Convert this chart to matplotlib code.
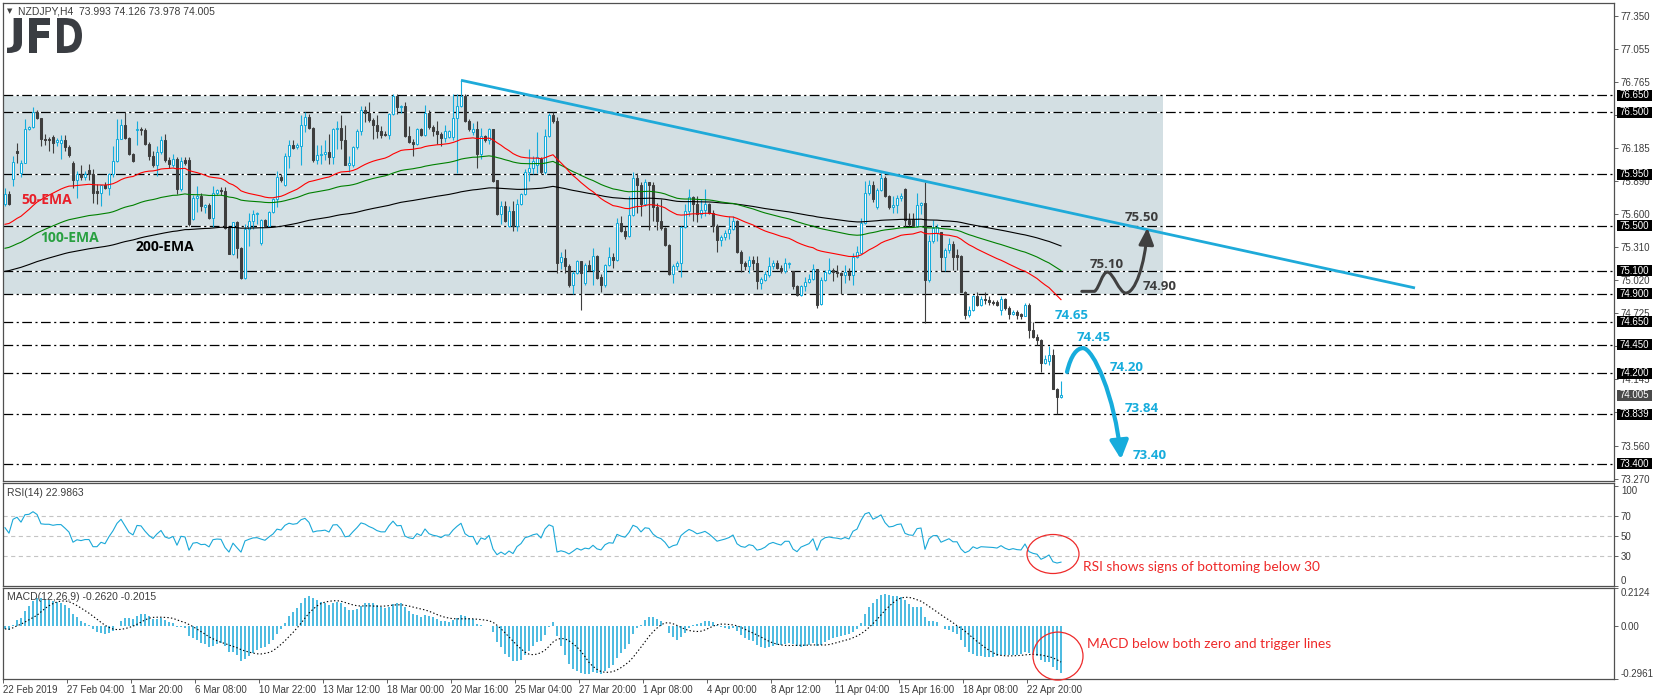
"""NZDJPY H4 chart with EMAs, RSI and MACD panels (JFD style)."""
import matplotlib

matplotlib.use("Agg")
import matplotlib.pyplot as plt
import matplotlib.transforms as mtransforms
import numpy as np
import pandas as pd
from matplotlib.font_manager import FontProperties
from matplotlib.patches import Ellipse, FancyArrowPatch, PathPatch, Rectangle
from matplotlib.path import Path
from matplotlib.textpath import TextPath

plt.rcParams["lines.scale_dashes"] = False
plt.rcParams["font.family"] = ["Liberation Sans", "DejaVu Sans"]

# --- price data (H4 bars, 22 Feb 2019 -> 24 Apr 2019) ---
opens = [
    75.69, 75.78, 75.91, 76.16, 75.96, 76.05, 76.35, 76.37, 76.50, 76.45,
    76.26, 76.26, 76.28, 76.24, 76.23, 76.25, 76.19, 76.05, 75.90, 75.95,
    75.93, 75.99, 75.95, 75.80, 75.79, 75.86, 75.83, 75.95, 76.07, 76.26,
    76.39, 76.27, 76.13, 76.34, 76.35, 76.34, 76.22, 76.11, 76.03, 76.15,
    76.25, 76.08, 76.03, 76.09, 75.82, 76.08, 76.08, 75.56, 75.74, 75.76,
    75.66, 75.68, 75.57, 75.79, 75.81, 75.80, 75.48, 75.25, 75.53, 75.30,
    75.04, 75.47, 75.54, 75.60, 75.35, 75.55, 75.50, 75.62, 75.73, 75.93,
    75.86, 76.11, 76.21, 76.19, 76.20, 76.39, 76.46, 76.36, 76.08, 76.12,
    76.13, 76.15, 76.10, 76.35, 76.36, 76.25, 76.03, 76.03, 76.19, 76.33,
    76.52, 76.49, 76.43, 76.39, 76.33, 76.31, 76.30, 76.48, 76.64, 76.54,
    76.55, 76.29, 76.24, 76.22, 76.35, 76.30, 76.49, 76.37, 76.33, 76.31,
    76.27, 76.28, 76.28, 76.45, 76.55, 76.64, 76.42, 76.32, 76.35, 76.13,
    76.29, 76.25, 76.35, 75.90, 75.60, 75.67, 75.50, 75.63, 75.50, 75.69,
    75.78, 75.97, 76.01, 76.03, 76.09, 75.97, 76.29, 76.47, 76.42, 75.18,
    75.21, 75.14, 74.98, 75.08, 75.19, 74.99, 75.15, 75.11, 75.23, 75.05,
    74.98, 75.15, 75.22, 75.20, 75.52, 75.45, 75.41, 75.59, 75.92, 75.86,
    75.69, 75.88, 75.86, 75.66, 75.54, 75.48, 75.33, 75.07, 75.14, 75.17,
    75.49, 75.63, 75.75, 75.69, 75.60, 75.64, 75.69, 75.61, 75.50, 75.37,
    75.40, 75.43, 75.47, 75.54, 75.27, 75.17, 75.14, 75.20, 75.17, 74.99,
    75.02, 75.06, 75.14, 75.17, 75.13, 75.10, 75.16, 75.10, 74.97, 74.89,
    74.97, 75.00, 75.03, 75.12, 74.81, 75.02, 75.08, 75.11, 75.09, 75.08,
    75.06, 75.09, 75.06, 75.22, 75.26, 75.52, 75.79, 75.86, 75.66, 75.81,
    75.92, 75.76, 75.66, 75.68, 75.74, 75.82, 75.55, 75.56, 75.50, 75.68,
    75.70, 75.02, 75.36, 75.43, 75.44, 75.22, 75.28, 75.34, 75.24, 75.23,
    74.91, 74.71, 74.76, 74.88, 74.80, 74.85, 74.84, 74.83, 74.83, 74.76,
    74.85, 74.77, 74.72, 74.74, 74.72, 74.70, 74.80, 74.58, 74.52, 74.49,
    74.29, 74.31, 74.36, 74.06, 73.993,
]
highs = [
    75.83, 75.80, 76.11, 76.23, 76.08, 76.44, 76.38, 76.54, 76.52, 76.45,
    76.31, 76.28, 76.30, 76.27, 76.30, 76.30, 76.21, 76.07, 75.98, 76.03,
    75.98, 76.04, 76.00, 75.87, 75.86, 75.88, 75.96, 76.20, 76.44, 76.44,
    76.50, 76.28, 76.14, 76.42, 76.37, 76.36, 76.24, 76.16, 76.20, 76.29,
    76.31, 76.10, 76.13, 76.10, 76.10, 76.10, 76.10, 75.77, 75.85, 75.79,
    75.69, 75.70, 75.85, 75.82, 75.84, 75.84, 75.49, 75.53, 75.54, 75.31,
    75.51, 75.61, 75.64, 75.62, 75.56, 75.56, 75.63, 75.74, 75.98, 75.95,
    76.14, 76.25, 76.25, 76.23, 76.47, 76.50, 76.48, 76.37, 76.21, 76.21,
    76.25, 76.31, 76.36, 76.42, 76.47, 76.39, 76.11, 76.20, 76.35, 76.55,
    76.55, 76.59, 76.45, 76.47, 76.38, 76.33, 76.49, 76.66, 76.66, 76.56,
    76.59, 76.38, 76.26, 76.36, 76.36, 76.56, 76.52, 76.39, 76.42, 76.32,
    76.39, 76.34, 76.66, 76.66, 76.78, 76.66, 76.44, 76.40, 76.42, 76.36,
    76.30, 76.36, 76.35, 75.90, 75.72, 75.72, 75.67, 75.72, 75.73, 75.79,
    76.00, 76.17, 76.11, 76.32, 76.10, 76.35, 76.49, 76.50, 76.46, 75.27,
    75.29, 75.16, 75.10, 75.20, 75.19, 75.17, 75.20, 75.30, 75.24, 75.07,
    75.16, 75.31, 75.26, 75.57, 75.58, 75.50, 75.76, 75.97, 75.96, 75.88,
    75.91, 75.88, 75.88, 75.70, 75.73, 75.49, 75.34, 75.16, 75.19, 75.50,
    75.69, 75.82, 75.76, 75.76, 75.73, 75.82, 75.70, 75.64, 75.51, 75.42,
    75.46, 75.58, 75.58, 75.55, 75.28, 75.19, 75.23, 75.23, 75.23, 75.05,
    75.10, 75.22, 75.20, 75.20, 75.15, 75.21, 75.18, 75.10, 74.98, 74.98,
    75.05, 75.07, 75.16, 75.12, 75.05, 75.11, 75.21, 75.13, 75.15, 75.09,
    75.15, 75.13, 75.26, 75.32, 75.57, 75.89, 75.90, 75.89, 75.83, 75.96,
    75.94, 75.77, 75.76, 75.77, 75.79, 75.83, 75.61, 75.61, 75.79, 75.71,
    75.88, 75.42, 75.55, 75.51, 75.44, 75.30, 75.39, 75.36, 75.29, 75.24,
    74.92, 74.79, 74.89, 74.91, 74.88, 74.91, 74.88, 74.84, 74.84, 74.88,
    74.86, 74.79, 74.76, 74.76, 74.73, 74.82, 74.82, 74.65, 74.54, 74.50,
    74.36, 74.44, 74.41, 74.07, 74.126,
]
lows = [
    75.67, 75.68, 75.85, 76.05, 75.93, 76.05, 76.34, 76.36, 76.44, 76.20,
    76.21, 76.16, 76.14, 76.20, 76.09, 76.16, 76.10, 75.83, 75.74, 75.90,
    75.90, 75.90, 75.70, 75.69, 75.67, 75.82, 75.77, 75.93, 76.06, 76.26,
    76.26, 76.12, 76.06, 76.21, 76.30, 76.21, 76.08, 76.02, 75.94, 76.13,
    76.06, 76.01, 76.02, 75.78, 75.80, 76.03, 75.50, 75.55, 75.62, 75.63,
    75.61, 75.56, 75.49, 75.77, 75.77, 75.47, 75.25, 75.24, 75.21, 75.03,
    75.03, 75.32, 75.47, 75.51, 75.33, 75.49, 75.49, 75.61, 75.66, 75.88,
    75.85, 76.01, 76.17, 76.17, 76.03, 76.32, 76.35, 76.06, 76.04, 76.04,
    76.08, 76.04, 76.04, 76.17, 76.17, 76.03, 75.97, 76.02, 76.17, 76.30,
    76.41, 76.41, 76.26, 76.27, 76.27, 76.29, 76.26, 76.47, 76.48, 76.49,
    76.28, 76.23, 76.11, 76.21, 76.29, 76.29, 76.35, 76.29, 76.22, 76.20,
    76.24, 76.27, 76.25, 75.96, 76.54, 76.41, 76.33, 76.30, 76.01, 76.09,
    76.24, 76.22, 75.88, 75.59, 75.51, 75.53, 75.49, 75.45, 75.45, 75.68,
    75.77, 75.89, 75.95, 75.96, 75.95, 75.95, 76.28, 76.40, 75.08, 75.12,
    75.08, 74.96, 74.90, 75.07, 74.76, 74.98, 75.10, 74.98, 75.03, 74.91,
    74.96, 75.14, 75.13, 75.19, 75.44, 75.38, 75.40, 75.58, 75.61, 75.58,
    75.67, 75.46, 75.54, 75.46, 75.46, 75.32, 75.06, 74.99, 75.11, 75.05,
    75.48, 75.58, 75.54, 75.53, 75.57, 75.58, 75.60, 75.44, 75.27, 75.32,
    75.37, 75.38, 75.46, 75.26, 75.09, 75.11, 75.08, 75.11, 74.94, 74.94,
    75.01, 75.05, 75.12, 75.12, 75.08, 75.08, 75.13, 74.94, 74.88, 74.88,
    74.92, 74.99, 75.02, 74.77, 74.80, 75.01, 75.07, 75.01, 75.05, 74.90,
    74.99, 75.02, 74.98, 75.21, 75.26, 75.51, 75.77, 75.71, 75.65, 75.80,
    75.75, 75.65, 75.61, 75.61, 75.72, 75.49, 75.50, 75.49, 75.49, 75.60,
    74.64, 75.00, 75.35, 75.36, 75.10, 75.10, 75.26, 75.11, 75.11, 74.91,
    74.68, 74.69, 74.75, 74.79, 74.79, 74.81, 74.80, 74.80, 74.79, 74.71,
    74.76, 74.68, 74.71, 74.68, 74.68, 74.70, 74.51, 74.51, 74.45, 74.21,
    74.28, 74.27, 74.06, 73.839, 73.978,
]
closes = [
    75.78, 75.69, 76.06, 76.14, 76.05, 76.35, 76.37, 76.50, 76.45, 76.26,
    76.25, 76.25, 76.23, 76.25, 76.25, 76.19, 76.12, 75.90, 75.95, 75.93,
    75.95, 75.95, 75.79, 75.79, 75.86, 75.83, 75.95, 76.07, 76.26, 76.39,
    76.27, 76.13, 76.07, 76.35, 76.34, 76.22, 76.11, 76.03, 76.15, 76.25,
    76.08, 76.04, 76.09, 75.82, 76.07, 76.05, 75.51, 75.74, 75.76, 75.67,
    75.68, 75.57, 75.79, 75.81, 75.80, 75.48, 75.25, 75.53, 75.30, 75.04,
    75.47, 75.54, 75.60, 75.61, 75.55, 75.50, 75.62, 75.73, 75.93, 75.90,
    76.11, 76.21, 76.18, 76.21, 76.39, 76.46, 76.36, 76.08, 76.12, 76.13,
    76.15, 76.10, 76.35, 76.36, 76.25, 76.03, 76.05, 76.19, 76.33, 76.52,
    76.49, 76.43, 76.39, 76.33, 76.30, 76.30, 76.48, 76.64, 76.54, 76.55,
    76.29, 76.24, 76.22, 76.35, 76.30, 76.49, 76.37, 76.33, 76.31, 76.27,
    76.33, 76.33, 76.45, 76.55, 76.64, 76.42, 76.35, 76.35, 76.13, 76.29,
    76.25, 76.35, 75.89, 75.60, 75.67, 75.54, 75.63, 75.50, 75.69, 75.78,
    75.97, 76.01, 76.07, 76.10, 75.97, 76.29, 76.47, 76.42, 75.17, 75.22,
    75.14, 74.98, 75.08, 75.19, 75.08, 75.15, 75.11, 75.23, 75.04, 74.98,
    75.15, 75.22, 75.20, 75.52, 75.45, 75.41, 75.59, 75.92, 75.86, 75.69,
    75.88, 75.86, 75.66, 75.54, 75.48, 75.33, 75.07, 75.14, 75.17, 75.49,
    75.63, 75.75, 75.69, 75.60, 75.64, 75.69, 75.61, 75.50, 75.37, 75.40,
    75.43, 75.47, 75.54, 75.27, 75.17, 75.14, 75.20, 75.17, 75.01, 75.03,
    75.07, 75.14, 75.17, 75.13, 75.10, 75.17, 75.17, 74.97, 74.89, 74.97,
    75.00, 75.03, 75.12, 74.80, 75.02, 75.09, 75.11, 75.09, 75.08, 75.06,
    75.09, 75.06, 75.22, 75.27, 75.52, 75.79, 75.86, 75.73, 75.81, 75.92,
    75.76, 75.66, 75.68, 75.74, 75.76, 75.55, 75.51, 75.50, 75.68, 75.70,
    75.02, 75.36, 75.48, 75.49, 75.22, 75.28, 75.34, 75.22, 75.22, 74.91,
    74.71, 74.76, 74.88, 74.80, 74.85, 74.84, 74.83, 74.82, 74.80, 74.85,
    74.77, 74.72, 74.74, 74.71, 74.70, 74.80, 74.58, 74.52, 74.49, 74.29,
    74.32, 74.36, 74.06, 73.99, 74.005,
]

# indicator values at the left edge of the chart (history before the first bar)
ema_seeds = {50: 75.50, 100: 75.29, 200: 75.09}
macd_fast_seed, macd_slow_seed = 75.75, 75.77
rsi_gain_seed, rsi_loss_seed = 0.035, 0.030

tick_labels = [
    "22 Feb 2019", "27 Feb 04:00", "1 Mar 20:00", "6 Mar 08:00", "10 Mar 22:00",
    "13 Mar 12:00", "18 Mar 00:00", "20 Mar 16:00", "25 Mar 04:00", "27 Mar 20:00",
    "1 Apr 08:00", "4 Apr 00:00", "8 Apr 12:00", "11 Apr 04:00", "15 Apr 16:00",
    "18 Apr 08:00", "22 Apr 20:00",
]
price_ticks = [77.350, 77.055, 76.765, 76.475, 76.185, 75.890, 75.600, 75.310,
               75.020, 74.725, 74.435, 74.145, 73.855, 73.560, 73.270]
hidden_ticks = [76.475, 74.435, 73.855]  # labels covered by the level boxes
levels = [76.65, 76.50, 75.95, 75.50, 75.10, 74.90, 74.65, 74.45, 74.20, 73.839, 73.40]
last_price = 74.005
range_top, range_bottom = 76.65, 74.90
trend_x, trend_y = [114, 352.5], [76.78, 74.95]

CYAN = "#16acdc"
DARK = "#3e3e3e"
RED = "#ee2a2a"
W, H = 1655, 700


def ema(values, span, seed):
    alpha = 2.0 / (span + 1)
    out, prev = [], seed
    for v in values:
        prev = prev + alpha * (v - prev)
        out.append(prev)
    return np.array(out)


def box(top, bottom, left=3, right=1614):
    return [left / W, 1 - bottom / H, (right - left) / W, (bottom - top) / H]


o, h, l, c = (np.array(a, dtype=float) for a in (opens, highs, lows, closes))
x = np.arange(len(c))

# indicators
emas = {n: ema(c, n, s) for n, s in ema_seeds.items()}
macd = ema(c, 12, macd_fast_seed) - ema(c, 26, macd_slow_seed)
signal = pd.Series(macd).rolling(9, min_periods=1).mean().values
delta = np.diff(np.concatenate([[o[0]], c]))
g, ls_ = rsi_gain_seed, rsi_loss_seed
rsi = []
for d in delta:
    g = (g * 13 + max(d, 0)) / 14
    ls_ = (ls_ * 13 + max(-d, 0)) / 14
    rsi.append(100 - 100 / (1 + g / ls_))
rsi = np.array(rsi)

fig = plt.figure(figsize=(W / 100, H / 100), dpi=100)
ax = fig.add_axes(box(3, 481))
ax_rsi = fig.add_axes(box(483, 586))
ax_macd = fig.add_axes(box(588, 679))
xlim = (-0.5, -0.5 + 1611 / 4)

for a in (ax, ax_rsi, ax_macd):
    a.set_xlim(*xlim)
    for s in a.spines.values():
        s.set_color("#505050")
        s.set_linewidth(0.9)
    a.yaxis.tick_right()
    a.tick_params(axis="y", direction="out", length=3, pad=2, labelsize=7,
                  labelcolor="#3c3c3c", color="#606060", width=0.7)
    a.tick_params(axis="x", bottom=False, labelbottom=False)

# --- main panel ---
ax.set_ylim(73.2491, 77.4606)
ax.add_patch(Rectangle((xlim[0], range_bottom), 289.5 - xlim[0], range_top - range_bottom,
                       fc="#d3dfe3", ec="none", zorder=0))
for lv in levels:
    ax.axhline(lv, color="black", lw=0.9, ls=(0, (7, 2.5, 1.5, 2.5)), gapcolor="white", zorder=1)

up = c >= o
ax.vlines(x, l, h, colors=np.where(up, CYAN, DARK), lw=0.8, zorder=3)
body_lo = np.minimum(o, c)
body_h = np.maximum(np.abs(c - o), 0.004)
ax.bar(x[up], body_h[up], bottom=body_lo[up], width=0.6, color="white",
       edgecolor=CYAN, lw=0.75, zorder=4)
ax.bar(x[~up], body_h[~up], bottom=body_lo[~up], width=0.6, color=DARK,
       edgecolor=DARK, lw=0.75, zorder=4)

for n, col in ((200, "black"), (100, "#008000"), (50, "#ff0000")):
    ax.plot(x, emas[n], color=col, lw=0.8, zorder=5)

ax.plot(trend_x, trend_y, color="#1eaad9", lw=2.0, solid_capstyle="butt", zorder=6)

bold = dict(family=["Open Sans", "DejaVu Sans"], weight="bold")
ax.text(4, 75.725, "50-EMA", color="#e8202a", fontsize=10, va="center", zorder=7, **bold)
ax.text(8.75, 75.39, "100-EMA", color="#28a040", fontsize=10, va="center", zorder=7, **bold)
ax.text(32.75, 75.31, "200-EMA", color="black", fontsize=10, va="center", zorder=7, **bold)

# scenario arrows
up_path = Path(
    [(269.2, 74.92), (272.4, 74.92),
     (273.6, 74.95), (274.3, 75.09), (275.6, 75.09),
     (277.0, 75.09), (278.6, 74.905), (280.2, 74.905),
     (282.5, 74.905), (285.0, 75.15), (285.6, 75.48)],
    [Path.MOVETO, Path.LINETO] + [Path.CURVE4] * 9,
)
ax.add_patch(FancyArrowPatch(path=up_path, arrowstyle="-|>,head_length=10,head_width=4.5",
                             mutation_scale=1, color="#404040", lw=2.2, zorder=8))
down_path = Path(
    [(265.5, 74.21), (266.5, 74.36), (268.0, 74.42), (269.5, 74.42),
     (272.0, 74.42), (277.5, 74.0), (279.0, 73.44)],
    [Path.MOVETO] + [Path.CURVE4] * 6,
)
ax.add_patch(FancyArrowPatch(path=down_path, arrowstyle="-|>,head_length=11,head_width=5.5",
                             mutation_scale=1, color=CYAN, lw=3.0, zorder=8))

for xx, yy, txt in ((280, 75.575, "75.50"), (271.25, 75.16, "75.10"), (284.5, 74.96, "74.90")):
    ax.text(xx, yy, txt, color="#3c3c3c", fontsize=9.5, va="center", zorder=9, **bold)
for xx, yy, txt in ((262.5, 74.71, "74.65"), (268, 74.51, "74.45"), (276.25, 74.25, "74.20"),
                    (280, 73.89, "73.84"), (282, 73.47, "73.40")):
    ax.text(xx, yy, txt, color=CYAN, fontsize=9.5, va="center", zorder=9, **bold)

ax.set_yticks(price_ticks)
ax.set_yticklabels(["" if t in hidden_ticks else f"{t:.3f}" for t in price_ticks])
trans = mtransforms.blended_transform_factory(ax.transAxes, ax.transData)
half = 5.5 / 113.5
for lv, fc in [(lv, "black") for lv in levels] + [(last_price, "#4a4a4a")]:
    ax.add_patch(Rectangle((1.0019, lv - half), 0.0217, 2 * half, transform=trans,
                           fc=fc, ec="none", clip_on=False, zorder=10))
    ax.text(1.0032, lv, f"{lv:.3f}", transform=trans, color="white", fontsize=7,
            va="center", ha="left", zorder=11, clip_on=False)

# --- RSI panel ---
ax_rsi.set_ylim(0, 103)
for lv in (70, 50, 30):
    ax_rsi.axhline(lv, color="#c4c4c4", lw=0.8, ls=(0, (3, 2.5)), zorder=1)
ax_rsi.plot(x, rsi, color="#1aa8d8", lw=0.8, zorder=3)
ax_rsi.set_yticks([100, 70, 50, 30, 0])
ax_rsi.set_yticklabels(["100", "70", "50", "30", "0"])
rl = ax_rsi.get_yticklabels()
rl[0].set_va("top")
rl[-1].set_va("bottom")
ax_rsi.add_patch(Ellipse((262, 32), 13, 39, fill=False, ec=RED, lw=0.9, clip_on=False, zorder=5))
ax_rsi.text(269.5, 19, "RSI shows signs of bottoming below 30", color=RED, fontsize=9.9,
            family=["Lato", "DejaVu Sans"], va="center")

# --- MACD panel ---
ax_macd.set_ylim(-0.2961, 0.2124)
ax_macd.vlines(x, 0, macd, colors="#1aa8d8", lw=1.1, zorder=2)
ax_macd.plot(x, signal, color="black", lw=0.8, ls=(0, (1, 1.6)), zorder=3)
ax_macd.set_yticks([0.2124, 0.0, -0.2961])
ax_macd.set_yticklabels(["0.2124", "0.00", "-0.2961"])
ml = ax_macd.get_yticklabels()
ml[0].set_va("top")
ml[-1].set_va("bottom")
ax_macd.add_patch(Ellipse((263.25, -0.168), 12.5, 0.268, fill=False, ec=RED, lw=0.9,
                          clip_on=False, zorder=5))
ax_macd.text(270.5, -0.10, "MACD below both zero and trigger lines", color=RED, fontsize=9.9,
             family=["Lato", "DejaVu Sans"], va="center")

ax_macd.tick_params(axis="x", bottom=True, labelbottom=True, direction="out", length=3,
                    pad=1, labelsize=7, labelcolor="#3c3c3c", color="#606060", width=0.7)
ax_macd.set_xticks([16 * k - 0.5 for k in range(len(tick_labels))])
ax_macd.set_xticklabels(tick_labels, ha="left")

# --- header, logo, panel captions ---
fig.text(18 / W, 1 - 11 / H, "NZDJPY,H4  73.993 74.126 73.978 74.005", fontsize=7.5,
         color="#3c3c3c", va="center")
fig.text(10 / W, 1 - 11 / H, "\u25bc", fontsize=5, color="#404040", va="center", ha="center",
         family="DejaVu Sans")
fig.text(7 / W, 1 - 493 / H, "RSI(14) 22.9863", fontsize=7.5, color="#3c3c3c", va="center")
fig.text(7 / W, 1 - 597 / H, "MACD(12,26,9) -0.2620 -0.2015", fontsize=7.5, color="#3c3c3c",
         va="center")

# logo letters, each fitted into its own pixel box (left, right)
logo_prop = FontProperties(family="DejaVu Sans", weight="bold")
for letter, left, right in (("J", 7, 22), ("F", 29, 50), ("D", 57, 82)):
    tp = TextPath((0, 0), letter, size=1, prop=logo_prop)
    ext = tp.get_extents()
    tr = (mtransforms.Affine2D().translate(-ext.x0, -ext.y0)
          .scale((right - left) / ext.width, 35 / ext.height).translate(left, H - 53))
    fig.add_artist(PathPatch(tp, transform=tr, fc="#3a3d42", ec="none"))

fig.savefig("out.png", dpi=100)
